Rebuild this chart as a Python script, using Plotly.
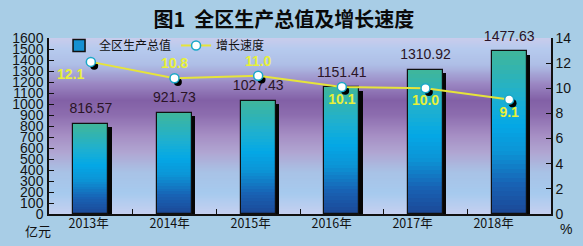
import plotly.graph_objects as go

# ---------------- data ----------------
years = ["2013年", "2014年", "2015年", "2016年", "2017年", "2018年"]
gdp = [816.57, 921.73, 1027.43, 1151.41, 1310.92, 1477.63]
growth = [12.1, 10.8, 11.0, 10.1, 10.0, 9.1]
growth_pos = ["bottom left", "top center", "top center", "bottom center", "bottom center", "bottom center"]
left_ticks = list(range(0, 1601, 100))
right_ticks = list(range(0, 15, 2))

xs = list(range(len(years)))
BAR_W = 0.415
YMAX = 1600

def lerp(c1, c2, t):
    return tuple(round(a + (b - a) * t) for a, b in zip(c1, c2))

def hexrgb(h):
    h = h.lstrip("#")
    return tuple(int(h[i:i + 2], 16) for i in (0, 2, 4))

def grad(stops, t):
    for (p0, c0), (p1, c1) in zip(stops, stops[1:]):
        if p0 <= t <= p1:
            u = 0 if p1 == p0 else (t - p0) / (p1 - p0)
            r, g, b = lerp(hexrgb(c0), hexrgb(c1), u)
            return f"rgb({r},{g},{b})"
    r, g, b = hexrgb(stops[-1][1])
    return f"rgb({r},{g},{b})"

# bar gradient, fraction from bottom (0) to top (1)
bar_stops = [(0.0, "#1c4896"), (0.18, "#1862b4"), (0.38, "#0c94d6"), (0.55, "#04a8e6"),
             (0.72, "#1eb0d0"), (1.0, "#40b69a")]
# plot background gradient, fraction from bottom (0) to top (1)
bg_stops = [(0.0, "#c6d0f0"), (0.12, "#a6caee"), (0.24, "#a8c2e6"), (0.35, "#b0a6d2"),
            (0.45, "#a68ec4"), (0.57, "#8c6cae"), (0.65, "#8260a6"), (0.74, "#9a86c2"),
            (0.85, "#aebee6"), (0.94, "#b6caee"), (1.0, "#c8ccec")]

fig = go.Figure()

# background gradient (decoration) as a smooth heatmap spanning the plot area
NB = 40
bg_y = [YMAX * i / (NB - 1) for i in range(NB)]
bg_z = [[i / (NB - 1), i / (NB - 1)] for i in range(NB)]
fig.add_trace(go.Heatmap(x=[-0.5, 5.5], y=bg_y, z=bg_z, zsmooth="best", showscale=False,
                         zmin=0, zmax=1, hoverinfo="skip",
                         colorscale=[[p, c] for p, c in bg_stops]))

# bar shadow
fig.add_trace(go.Bar(x=[x + 0.04 for x in xs], y=[v - 30 for v in gdp], width=BAR_W,
                     marker=dict(color="#050505", line=dict(width=0)),
                     showlegend=False, hoverinfo="skip"))

# gradient bar segments
N = 36
for k in range(N):
    fig.add_trace(go.Bar(x=xs, y=[v / N * 1.02 for v in gdp], base=[v * k / N for v in gdp],
                         width=BAR_W,
                         marker=dict(color=grad(bar_stops, (k + 0.5) / N), line=dict(width=0)),
                         showlegend=False, hoverinfo="skip"))

# outline
fig.add_trace(go.Bar(x=xs, y=gdp, width=BAR_W, name="全区生产总值",
                     marker=dict(color="rgba(0,0,0,0)", line=dict(color="#101010", width=1.2)),
                     showlegend=False, hoverinfo="skip"))

# value labels (invisible marker gives the gap above the bar)
fig.add_trace(go.Scatter(x=xs, y=gdp, mode="markers+text", text=[f"{v:.2f}" for v in gdp],
                         marker=dict(size=10, color="rgba(0,0,0,0)"),
                         textposition="top center", cliponaxis=False, showlegend=False,
                         textfont=dict(family="Liberation Sans, Arial", size=14, color="#2a1426"),
                         hoverinfo="skip"))

# legend helper for bars
fig.add_trace(go.Bar(x=[None], y=[None], name="全区生产总值",
                     marker=dict(color="#1590d2", line=dict(color="#101010", width=1.5))))

# marker shadow
fig.add_trace(go.Scatter(x=[x + 0.04 for x in xs], y=[g - 0.3 for g in growth], yaxis="y2",
                         mode="markers", marker=dict(size=8, color="#000000"),
                         showlegend=False, hoverinfo="skip"))
# growth line
fig.add_trace(go.Scatter(x=xs, y=growth, yaxis="y2", name="增长速度",
                         mode="lines+markers+text",
                         line=dict(color="#e6e43a", width=2),
                         marker=dict(size=9, color="white", line=dict(color="#1aa8c8", width=1.5)),
                         text=[f"{g:.1f}" for g in growth], textposition=growth_pos,
                         textfont=dict(family="Liberation Sans, Arial", size=14, color="#e8f03a",
                                       weight="bold"),
                         cliponaxis=False))

# dummy for label axis
fig.add_trace(go.Scatter(x=[None], y=[None], xaxis="x3", showlegend=False, hoverinfo="skip"))

fig.update_layout(
    width=583, height=246,
    margin=dict(l=47, r=30, t=38, b=32),
    paper_bgcolor="#a8cde6",
    plot_bgcolor="rgba(0,0,0,0)",
    barmode="overlay",
    bargap=0,
    font=dict(family="Liberation Sans, Arial", color="#111111"),
    title=dict(text="<b>图1  全区生产总值及增长速度</b>", x=0.487, xanchor="center",
               y=0.92, yanchor="middle",
               font=dict(family="Noto Sans CJK SC", size=20, color="#0a0a0a")),
    showlegend=True,
    legend=dict(orientation="h", x=0.02, y=1.04, xanchor="left", yanchor="top",
                bgcolor="rgba(0,0,0,0)", font=dict(family="Noto Sans CJK SC", size=12, color="#111111"),
                itemwidth=30, tracegroupgap=0),
    xaxis=dict(range=[-0.5, 5.5], tickmode="array", tickvals=[x - 0.5 for x in xs] + [len(xs) - 0.5],
               showticklabels=False, ticks="inside", ticklen=5, tickcolor="#111111",
               showline=True, linecolor="#111111", linewidth=1.5, showgrid=False, zeroline=False),
    xaxis3=dict(overlaying="x", anchor="y", range=[-0.49, 5.71], tickmode="array", tickvals=xs,
                ticktext=years, ticks="", showline=False, showgrid=False, zeroline=False,
                tickfont=dict(family="Noto Sans CJK SC", size=12.5, color="#111111")),
    yaxis=dict(range=[0, YMAX], tickmode="array", tickvals=left_ticks, ticks="inside", ticklen=5,
               tickcolor="#111111", showline=True, linecolor="#111111", linewidth=1.5,
               showgrid=False, zeroline=False, ticklabelstandoff=1,
               tickfont=dict(family="Liberation Sans, Arial", size=14, color="#141414")),
    yaxis2=dict(overlaying="y", side="right", range=[0, 14], tickmode="array", tickvals=right_ticks,
                ticks="inside", ticklen=5, tickcolor="#111111", showline=True, linecolor="#111111",
                linewidth=1.5, showgrid=False, zeroline=False,
                tickfont=dict(family="Liberation Sans, Arial", size=14, color="#141414")),
    annotations=[
        dict(text="亿元", xref="paper", yref="paper", x=-0.022, y=-0.03, xanchor="center",
             yanchor="top", showarrow=False, font=dict(family="Noto Sans CJK SC", size=13, color="#111111")),
        dict(text="%", xref="paper", yref="paper", x=1.03, y=-0.03, xanchor="center",
             yanchor="top", showarrow=False, font=dict(family="Liberation Sans, Arial", size=14, color="#111111")),
    ],
)

fig.write_html("out.html")
